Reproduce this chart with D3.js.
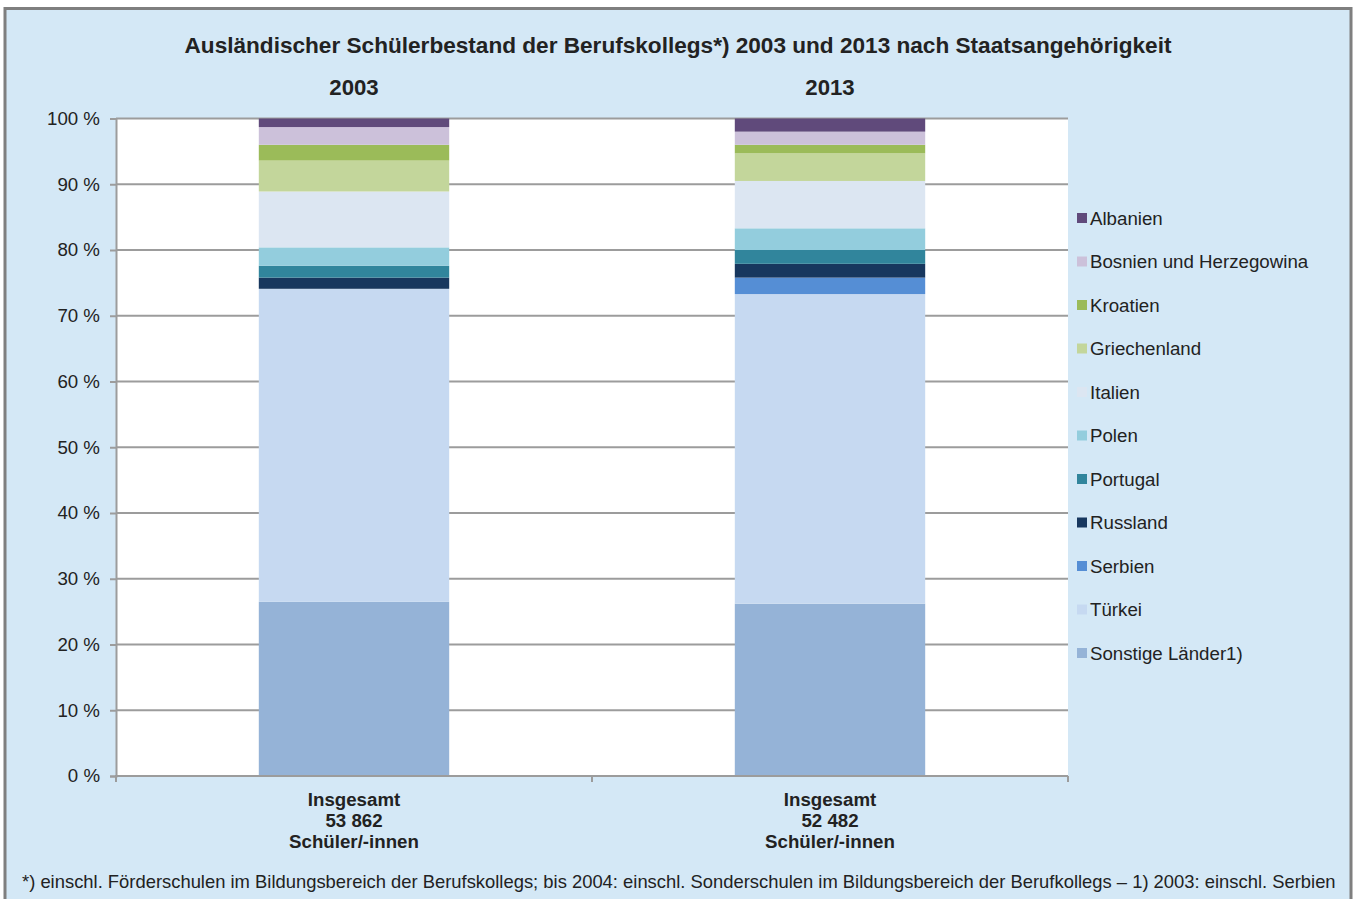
<!DOCTYPE html>
<html><head><meta charset="utf-8">
<script src="https://cdn.jsdelivr.net/npm/d3@7"></script>
<style>body{margin:0;background:#fff;}svg{display:block;font-family:"Liberation Sans",Arial,sans-serif;}</style>
</head><body>
<script>
const categories = ["2003", "2013"];
const totals = ["53 862", "52 482"];
const series = ["Sonstige Länder1)", "Türkei", "Serbien", "Russland", "Portugal", "Polen", "Italien", "Griechenland", "Kroatien", "Bosnien und Herzegowina", "Albanien"];
const values2003 = [26.5, 47.6, 0, 1.7, 1.8, 2.8, 8.5, 4.7, 2.4, 2.7, 1.3];
const values2013 = [26.2, 47.1, 2.5, 2.1, 2.1, 3.3, 7.2, 4.2, 1.3, 2.0, 2.0];
const colors = ["#95B3D7", "#C6D9F1", "#558ED5", "#17375E", "#31859C", "#93CDDD", "#DCE6F2", "#C3D69B", "#9BBB59", "#CCC1DA", "#604A7B"];
const yTicks = [0, 10, 20, 30, 40, 50, 60, 70, 80, 90, 100];

(function () {
const W = 1360, H = 899;
const svg = d3.select("body").append("svg").attr("width", W).attr("height", H);
svg.append("rect").attr("x", 0).attr("y", 0).attr("width", W).attr("height", H).attr("fill", "#fff");
svg.append("rect").attr("x", 5).attr("y", 8.5).attr("width", 1346).attr("height", 900)
  .attr("fill", "#D4E8F6").attr("stroke", "#7F7F7F").attr("stroke-width", 3);

const pLeft = 116, pRight = 1068, pTop = 118.5, pBottom = 776;
const x = d3.scaleBand().domain(categories).range([pLeft, pRight]).padding(0);
const y = d3.scaleLinear().domain([0, 100]).range([pBottom, pTop]);

svg.append("rect").attr("x", pLeft).attr("y", pTop).attr("width", pRight - pLeft).attr("height", pBottom - pTop).attr("fill", "#fff");

// gridlines
svg.append("g").selectAll("line").data(yTicks.filter(d => d > 0)).join("line")
  .attr("x1", pLeft).attr("x2", pRight).attr("y1", d => y(d)).attr("y2", d => y(d))
  .attr("stroke", "#9C9C9C").attr("stroke-width", 2);

// stacked data
const rows = categories.map((c, i) => {
  const vals = i === 0 ? values2003 : values2013;
  const o = { cat: c };
  series.forEach((s, j) => o[s] = vals[j]);
  return o;
});
const stack = d3.stack().keys(series)(rows);
const color = d3.scaleOrdinal().domain(series).range(colors);
const bw = x.bandwidth() * 0.4;
svg.append("g").selectAll("g").data(stack).join("g").attr("fill", d => color(d.key))
  .selectAll("rect").data(d => d).join("rect")
  .attr("x", d => x(d.data.cat) + (x.bandwidth() - bw) / 2)
  .attr("width", bw)
  .attr("y", d => y(d[1]))
  .attr("height", d => y(d[0]) - y(d[1]));

// y axis
const yAxis = d3.axisLeft(y).tickValues(yTicks).tickSize(6).tickPadding(10).tickFormat(d => d + " %");
const ga = svg.append("g").attr("transform", `translate(${pLeft},0)`).call(yAxis);
ga.select(".domain").attr("stroke", "#9C9C9C").attr("stroke-width", 2);
ga.selectAll(".tick line").attr("stroke", "#9C9C9C").attr("stroke-width", 2);
ga.selectAll(".tick text").attr("font-size", 18.7).attr("fill", "#222").attr("font-family", "Liberation Sans, Arial, sans-serif");

// x axis
svg.append("line").attr("x1", pLeft - 1).attr("x2", pRight).attr("y1", pBottom).attr("y2", pBottom).attr("stroke", "#9C9C9C").attr("stroke-width", 2);
const bounds = [pLeft, pLeft + x.step(), pRight];
svg.append("g").selectAll("line").data(bounds).join("line")
  .attr("x1", d => d).attr("x2", d => d).attr("y1", pBottom).attr("y2", pBottom + 6)
  .attr("stroke", "#9C9C9C").attr("stroke-width", 2);

// category labels
categories.forEach((c, i) => {
  const cx = x(c) + x.bandwidth() / 2;
  const t = svg.append("text").attr("x", cx).attr("text-anchor", "middle").attr("font-weight", "bold").attr("font-size", 18.7).attr("fill", "#222");
  ["Insgesamt", totals[i], "Schüler/-innen"].forEach((s, k) => {
    t.append("tspan").attr("x", cx).attr("y", 805.5 + k * 21).text(s);
  });
  svg.append("text").attr("x", cx).attr("y", 95).attr("text-anchor", "middle").attr("font-weight", "bold").attr("font-size", 22.2).attr("fill", "#222").text(c);
});

// title
svg.append("text").attr("x", 678).attr("y", 53).attr("text-anchor", "middle").attr("font-weight", "bold").attr("font-size", 22.6).attr("fill", "#222")
  .text("Ausländischer Schülerbestand der Berufskollegs*) 2003 und 2013 nach Staatsangehörigkeit");

// legend
const legendItems = series.slice().reverse();
const lg = svg.append("g").selectAll("g").data(legendItems).join("g")
  .attr("transform", (d, i) => `translate(1077,${218 + i * 43.5})`);
lg.append("rect").attr("x", 0).attr("y", -5).attr("width", 10).attr("height", 10).attr("fill", d => color(d));
lg.append("text").attr("x", 13).attr("y", 6.5).attr("font-size", 18.7).attr("fill", "#222").text(d => d);

// footnote
svg.append("text").attr("x", 22).attr("y", 888).attr("font-size", 18.4).attr("fill", "#222")
  .text("*) einschl. Förderschulen im Bildungsbereich der Berufskollegs; bis 2004: einschl. Sonderschulen im Bildungsbereich der Berufkollegs – 1) 2003: einschl. Serbien");
})();
</script>
</body></html>
